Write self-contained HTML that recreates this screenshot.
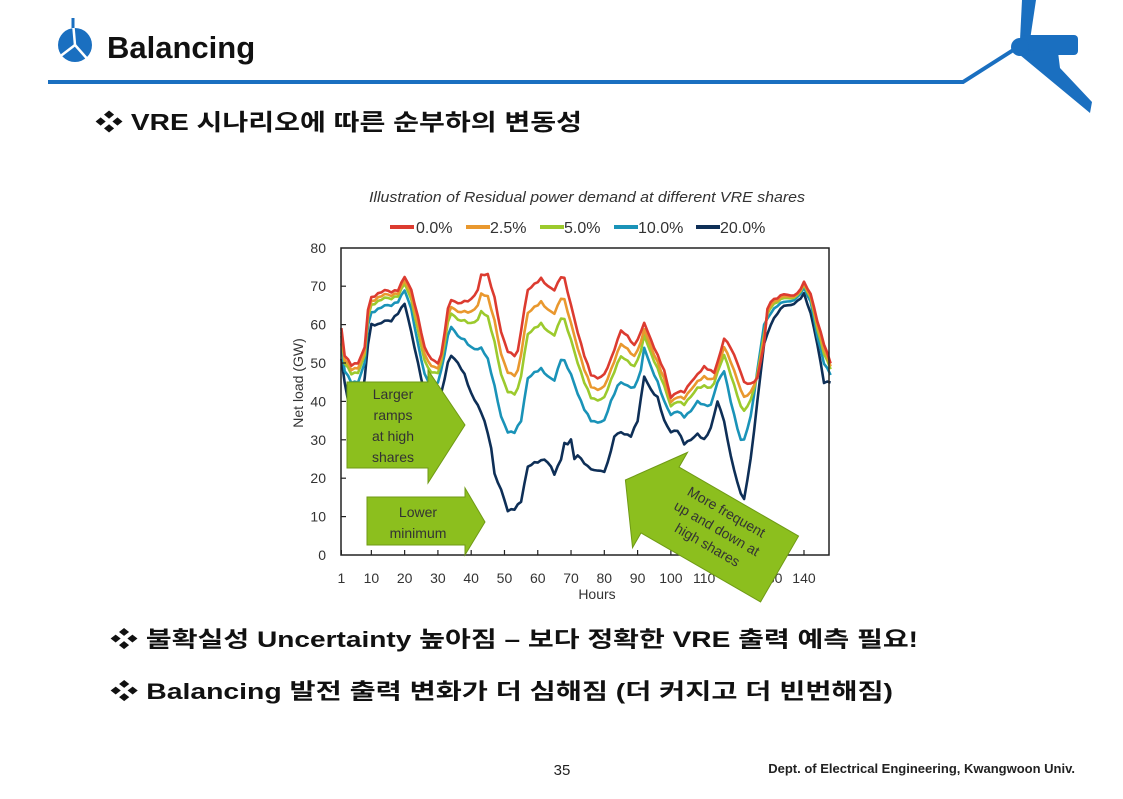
<!DOCTYPE html>
<html><head><meta charset="utf-8"><style>
body{margin:0;background:#fff;}
svg text{font-family:"Liberation Sans","Noto Sans CJK KR",sans-serif;}
</style></head><body>
<svg width="1123" height="794" viewBox="0 0 1123 794" xmlns="http://www.w3.org/2000/svg">
<!-- header -->
<circle cx="75" cy="45" r="17" fill="#1a6fc0"/>
<g stroke="#fff" stroke-width="2.5" fill="none"><line x1="75" y1="45" x2="73" y2="22"/><line x1="75" y1="45" x2="58" y2="58"/><line x1="75" y1="45" x2="90" y2="62"/></g>
<line x1="73" y1="18" x2="73" y2="28" stroke="#1a6fc0" stroke-width="3"/>
<text x="107" y="58" font-size="31" font-weight="bold" fill="#111">Balancing</text>
<polyline points="48,82 963,82 1018,47" fill="none" stroke="#1a6fc0" stroke-width="4"/>
<g fill="#1a6fc0">
<polygon points="1022,0 1036,0 1030,40 1020,40"/>
<rect x="1022" y="35" width="56" height="20" rx="4"/>
<circle cx="1020" cy="47" r="9"/>
<polygon points="1025,50 1058,52 1060,68 1092,102 1090,113 1020,55"/>
</g>
<text x="95" y="130" font-size="23" font-weight="bold" fill="#111" textLength="487" lengthAdjust="spacingAndGlyphs">❖ VRE 시나리오에 따른 순부하의 변동성</text>

<!-- chart -->
<text x="587" y="202" font-size="14.5" font-style="italic" fill="#333" text-anchor="middle" textLength="436" lengthAdjust="spacingAndGlyphs">Illustration of Residual power demand at different VRE shares</text>
<g font-size="16" fill="#333">
<line x1="390" y1="227" x2="414" y2="227" stroke="#dc3b30" stroke-width="4"/><text x="416" y="233">0.0%</text>
<line x1="466" y1="227" x2="490" y2="227" stroke="#e9982e" stroke-width="4"/><text x="490" y="233">2.5%</text>
<line x1="540" y1="227" x2="564" y2="227" stroke="#9cca2d" stroke-width="4"/><text x="564" y="233">5.0%</text>
<line x1="614" y1="227" x2="638" y2="227" stroke="#1a93b8" stroke-width="4"/><text x="638" y="233">10.0%</text>
<line x1="696" y1="227" x2="720" y2="227" stroke="#0e2f57" stroke-width="4"/><text x="720" y="233">20.0%</text>
</g>
<g id="ylab" font-size="14" fill="#333" text-anchor="end"></g>
<g id="xlab" font-size="14" fill="#333" text-anchor="middle"></g>
<text x="597" y="599" font-size="14" fill="#333" text-anchor="middle">Hours</text>
<text transform="translate(303,383) rotate(-90)" font-size="14" fill="#333" text-anchor="middle">Net load (GW)</text>
<g id="series" fill="none" stroke-width="2.6" stroke-linejoin="round"></g>
<rect x="341" y="248" width="488" height="307" fill="none" stroke="#222" stroke-width="1.5"/>
<g id="ticks" stroke="#222" stroke-width="1.2"></g>

<!-- arrows -->
<g fill="#8cbf1e" stroke="#6f9a15" stroke-width="1">
<polygon points="347,382 428,382 428,370 465,425 428,483 428,468 347,468"/>
<polygon points="367,497 465,497 465,488 485,522 465,555 465,545 367,545"/>
<polygon transform="translate(712,530) rotate(30)" points="-100,0 -60,-55 -60,-38 78,-38 78,38 -60,38 -60,55"/>
</g>
<g font-size="14" fill="#333" text-anchor="middle">
<text x="393" y="399">Larger</text><text x="393" y="420">ramps</text><text x="393" y="441">at high</text><text x="393" y="462">shares</text>
<text x="418" y="517">Lower</text><text x="418" y="538">minimum</text>
<g transform="translate(716,530) rotate(30)"><text x="0" y="-16">More frequent</text><text x="0" y="3">up and down at</text><text x="0" y="22">high shares</text></g>
</g>

<text x="110" y="647" font-size="22" font-weight="bold" fill="#111" textLength="808" lengthAdjust="spacingAndGlyphs">❖ 불확실성 Uncertainty 높아짐 – 보다 정확한 VRE 출력 예측 필요!</text>
<text x="110" y="699" font-size="22" font-weight="bold" fill="#111" textLength="783" lengthAdjust="spacingAndGlyphs">❖ Balancing 발전 출력 변화가 더 심해짐 (더 커지고 더 빈번해짐)</text>
<text x="562" y="775" font-size="15" fill="#222" text-anchor="middle">35</text>
<text x="1075" y="773" font-size="13" font-weight="bold" fill="#222" text-anchor="end">Dept. of Electrical Engineering, Kwangwoon Univ.</text>
</svg>
<script>
var NS="http://www.w3.org/2000/svg";
function X(h){return 341.4+(h-1)*3.328;}
function Y(v){return 555-v*3.84;}
function el(p,t,a,txt){var e=document.createElementNS(NS,t);for(var k in a)e.setAttribute(k,a[k]);if(txt)e.textContent=txt;document.getElementById(p).appendChild(e);}
for(var v=0;v<=80;v+=10){el("ylab","text",{x:326,y:Y(v)+5},String(v));if(v>0&&v<80)el("ticks","line",{x1:341,y1:Y(v),x2:346,y2:Y(v)});}
[1,10,20,30,40,50,60,70,80,90,100,110,120,130,140].forEach(function(h){el("xlab","text",{x:X(h),y:583},String(h));el("ticks","line",{x1:X(h),y1:555,x2:X(h),y2:550});});
function P(s){var a=s.trim().split(/\s+/).map(Number),r=[];for(var i=0;i<a.length;i+=2)r.push([a[i],a[i+1]]);return r;}
var red=P("1 59 2 52 4 49.5 6 50 8 54 9 64 10 67 12 68 14 69 16 68.5 18 69 20 72.5 22 69 24 62 26 54 28 51 30 50 31 52 33 64 34 66.5 36 65.5 38 66 40 66.5 42 69 43 73 45 73 47 67 49 58 51 53 53 52 54 53 56 64 57 69 59 70.5 61 72 63 70 65 69 67 72.5 68 72 70 65 72 58 74 52 76 47 78 46 80 47 82 51 84 56 85 58.5 87 57 89 54.5 91 58 92 60.5 94 56 96 52 98 48 100 41 102 42.5 104 42.5 106 45 108 47 110 49 112 48 113 47.5 115 53 116 56.5 118 54 120 50 122 45 124 44.5 126 46 128 55 129 64 130 66 132 67 134 68 136 67.5 138 68 140 71 142 68 144 61 146 55 148 50");
var teal=P("1 55 2 48 4 45 6 45 8 50 9 60 10 63 12 64 14 65 16 65 18 66 20 69 22 64 24 55 26 47 28 44 30 45 31 48 33 57 34 59.5 36 57 38 56 40 54 42 53.5 43 54 45 51 47 44 49 36 51 32 53 32 55 35 57 46 59 47.5 61 48.5 63 46.5 65 45.5 67 51 68 50.5 70 47 72 42 74 38 76 35 78 34.5 80 35 82 40 84 44 85 45 87 44 89 43.5 91 48 92 54 94 49 96 45 98 40 100 36.5 102 37.5 104 36 106 37.5 108 40 110 39 112 39 114 45 116 48 118 40 120 33 121 30 122 30 124 36 126 48 128 60 130 63 132 65 134 66 136 66 138 67 140 69.5 142 66 144 57 146 50 148 47");
var navy=P("1 51 2 45 3 40 5 37 7 40 8 46 9 55 10 60 12 60 14 61 16 61 18 63 20 65.5 22 58 24 50 26 42 28 36 30 38 31 42 33 50 34 52 36 50 38 47 40 42 42 39 44 35 46 28 47 21 49 17 51 11.5 53 12 55 14 57 23 59 24 61 24.5 62 25 64 23 65 21 67 25 68 29 69 29 70 30 71 25 72 26 73 25 75 23 77 22 79 22 80 21.5 82 27 83 31 85 32 86 31.5 88 31 90 35 92 46.5 94 43 96 41 98 35 100 32 102 32.5 104 29 106 30 108 31.5 110 30 112 33 114 40 116 35 117 30 119 22 121 16 122 14.5 124 25 126 40 128 55 130 60 132 63 134 65 136 65 138 66 140 68 142 63 144 55 146 45 148 45");
function interp(p,h){for(var i=0;i<p.length-1;i++){if(h<=p[i+1][0]){var t=(h-p[i][0])/(p[i+1][0]-p[i][0]);return p[i][1]+t*(p[i+1][1]-p[i][1]);}}return p[p.length-1][1];}
function path(f,col){var d="";for(var h=1;h<=148;h+=1){var v=f(h)+(Math.sin(h*2.7)*0.2);d+=(h==1?"M":"L")+X(h).toFixed(1)+","+Y(v).toFixed(1);}el("series","path",{d:d,stroke:col});}
path(function(h){return interp(navy,h);},"#0e2f57");
path(function(h){return interp(teal,h);},"#1a93b8");
path(function(h){var r=interp(red,h),t=interp(teal,h);return r-0.5*(r-t);},"#9cca2d");
path(function(h){var r=interp(red,h),t=interp(teal,h);return r-0.26*(r-t);},"#e9982e");
path(function(h){return interp(red,h);},"#dc3b30");
</script>
</body></html>
